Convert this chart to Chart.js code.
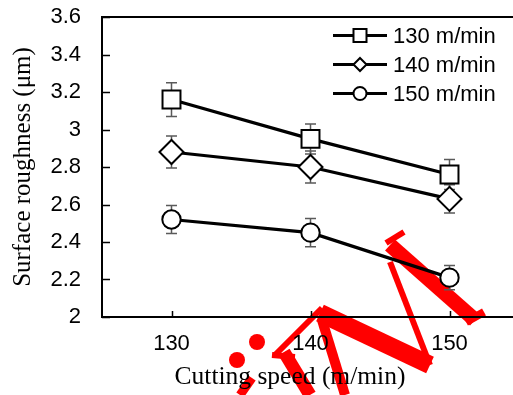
<!DOCTYPE html>
<html>
<head>
<meta charset="utf-8">
<script src="https://cdn.jsdelivr.net/npm/chart.js@4.4.1/dist/chart.umd.min.js"></script>
<style>
  html, body { margin: 0; padding: 0; overflow: hidden; background: #fff; }
  #wrap { width: 519px; height: 395px; }
</style>
</head>
<body>
<div id="wrap"><canvas id="chart" width="519" height="395"></canvas></div>
<script>
// cutting speed categories on the x axis
const speeds = ['130', '140', '150'];
const seriesNames = ['130 m/min', '140 m/min', '150 m/min'];

// surface roughness (um) and error bar half-lengths
const rough130 = [3.16, 2.95, 2.76];
const rough140 = [2.88, 2.80, 2.63];
const rough150 = [2.52, 2.45, 2.21];
const err130 = [0.09, 0.08, 0.08];
const err140 = [0.085, 0.085, 0.075];
const err150 = [0.075, 0.075, 0.065];

const yMin = 2, yMax = 3.6, yStep = 0.2;

const sans = "'Liberation Sans', Arial, sans-serif";
const serif = "'Liberation Serif', 'Times New Roman', serif";

function drawMarker(ctx, style, x, y, r) {
  ctx.beginPath();
  if (style === 'rect') {
    const s = r * Math.SQRT1_2;
    ctx.rect(x - s, y - s, 2 * s, 2 * s);
  } else if (style === 'rectRot') {
    ctx.moveTo(x, y - r); ctx.lineTo(x + r, y); ctx.lineTo(x, y + r); ctx.lineTo(x - r, y);
    ctx.closePath();
  } else {
    ctx.arc(x, y, r, 0, Math.PI * 2);
  }
  ctx.fill();
  ctx.stroke();
}

// red stamp that sits behind the plot (strokes of tilted letters + two dots)
const stampStrokes = [
  [390, 245, 475, 320, 15],
  [390, 262, 430, 365, 6],
  [320, 313, 430, 365, 18],
  [322, 308, 275, 355, 6],
  [272, 355, 295, 357, 6],
  [284, 352, 310, 395, 13],
  [322, 320, 345, 395, 10],
  [240, 395, 252, 378, 9],
  [466, 322, 484, 312, 8],
  [386, 243, 404, 232, 6]
];
const watermark = {
  id: 'watermark',
  beforeDraw(chart) {
    const ctx = chart.ctx;
    ctx.save();
    ctx.strokeStyle = '#ff0000';
    ctx.fillStyle = '#ff0000';
    ctx.lineCap = 'butt';
    stampStrokes.forEach(s => {
      ctx.lineWidth = s[4];
      ctx.beginPath();
      ctx.moveTo(s[0], s[1]); ctx.lineTo(s[2], s[3]);
      ctx.stroke();
    });
    ctx.beginPath(); ctx.arc(237, 360, 8, 0, Math.PI * 2); ctx.fill();
    ctx.beginPath(); ctx.arc(257, 342, 8, 0, Math.PI * 2); ctx.fill();
    ctx.restore();
  }
};

const errorBars = {
  id: 'errorBars',
  beforeDatasetsDraw(chart) {
    const ctx = chart.ctx;
    const y = chart.scales.y;
    ctx.save();
    ctx.strokeStyle = '#5a5a5a';
    ctx.lineWidth = 1.5;
    chart.data.datasets.forEach((ds, i) => {
      chart.getDatasetMeta(i).data.forEach((pt, j) => {
        const top = y.getPixelForValue(ds.data[j] + ds.errors[j]);
        const bot = y.getPixelForValue(ds.data[j] - ds.errors[j]);
        ctx.beginPath();
        ctx.moveTo(pt.x, top); ctx.lineTo(pt.x, bot);
        ctx.moveTo(pt.x - 5.5, top); ctx.lineTo(pt.x + 5.5, top);
        ctx.moveTo(pt.x - 5.5, bot); ctx.lineTo(pt.x + 5.5, bot);
        ctx.stroke();
      });
    });
    ctx.restore();
  }
};

// inward ticks, top frame line, x title and the line+marker legend
const frame = {
  id: 'frame',
  afterDraw(chart) {
    const ctx = chart.ctx;
    const a = chart.chartArea;
    const x = chart.scales.x, y = chart.scales.y;
    ctx.save();
    ctx.strokeStyle = '#000';
    ctx.lineWidth = 2;
    ctx.beginPath();
    ctx.moveTo(a.left - 1, a.top); ctx.lineTo(a.right, a.top);
    ctx.stroke();
    ctx.lineWidth = 1.5;
    ctx.beginPath();
    y.ticks.forEach(t => {
      const py = Math.round(y.getPixelForValue(t.value)) + 0.5;
      ctx.moveTo(a.left, py); ctx.lineTo(a.left + 8, py);
    });
    x.ticks.forEach((t, i) => {
      const px = Math.round(x.getPixelForTick(i)) + 0.5;
      ctx.moveTo(px, a.bottom); ctx.lineTo(px, a.bottom - 6);
    });
    ctx.stroke();

    ctx.fillStyle = '#000';
    ctx.font = '25.5px ' + serif;
    ctx.textAlign = 'center';
    ctx.textBaseline = 'middle';
    ctx.fillText('Cutting speed (m/min)', 290, 377);

    ctx.font = '22px ' + sans;
    ctx.textAlign = 'left';
    chart.data.datasets.forEach((ds, i) => {
      const ly = a.top + 18.5 + i * 29;
      ctx.strokeStyle = '#000';
      ctx.lineWidth = 3;
      ctx.beginPath();
      ctx.moveTo(333, ly); ctx.lineTo(387, ly);
      ctx.stroke();
      ctx.fillStyle = '#fff';
      ctx.lineWidth = 2;
      drawMarker(ctx, ds.pointStyle, 360, ly, ds.pointStyle === 'rect' ? 9.2 : 6.5);
      ctx.fillStyle = '#000';
      ctx.fillText(ds.label, 393, ly + 1);
    });
    ctx.restore();
  }
};

function series(label, data, errors, style, radius) {
  return {
    label: label,
    data: data,
    errors: errors,
    borderColor: '#000',
    borderWidth: 3.2,
    pointStyle: style,
    pointRadius: radius,
    pointHoverRadius: radius,
    pointBackgroundColor: '#fff',
    pointBorderColor: '#000',
    pointBorderWidth: 2,
    tension: 0,
    fill: false
  };
}

new Chart(document.getElementById('chart'), {
  type: 'line',
  data: {
    labels: speeds,
    datasets: [
      series(seriesNames[0], rough130, err130, 'rect', 12.7),
      series(seriesNames[1], rough140, err140, 'rectRot', 12),
      series(seriesNames[2], rough150, err150, 'circle', 9.2)
    ]
  },
  plugins: [watermark, errorBars, frame],
  options: {
    responsive: false,
    animation: false,
    devicePixelRatio: 1,
    layout: { autoPadding: false, padding: { top: 17, right: 0, left: 0, bottom: 0 } },
    plugins: { legend: { display: false }, tooltip: { enabled: false } },
    events: [],
    scales: {
      x: {
        offset: true,
        grid: { display: false, drawTicks: false },
        border: { display: true, color: '#000', width: 2 },
        ticks: { color: '#000', font: { family: sans, size: 22 }, padding: 14, maxRotation: 0 },
        afterFit(s) { s.height = 78; s.paddingLeft = 0; s.paddingRight = 0; }
      },
      y: {
        min: yMin,
        max: yMax,
        grid: { display: false, drawTicks: false },
        border: { display: true, color: '#000', width: 2 },
        ticks: {
          stepSize: yStep,
          color: '#000',
          font: { family: sans, size: 22 },
          padding: 21,
          callback: v => String(Math.round(v * 10) / 10)
        },
        title: {
          display: true,
          text: 'Surface roughness (\u03bcm)',
          color: '#000',
          font: { family: serif, size: 25, lineHeight: 1 },
          padding: { top: 11, bottom: 11 }
        },
        afterFit(s) { s.width = 102; s.paddingTop = 0; s.paddingBottom = 0; }
      }
    }
  }
});
</script>
</body>
</html>
